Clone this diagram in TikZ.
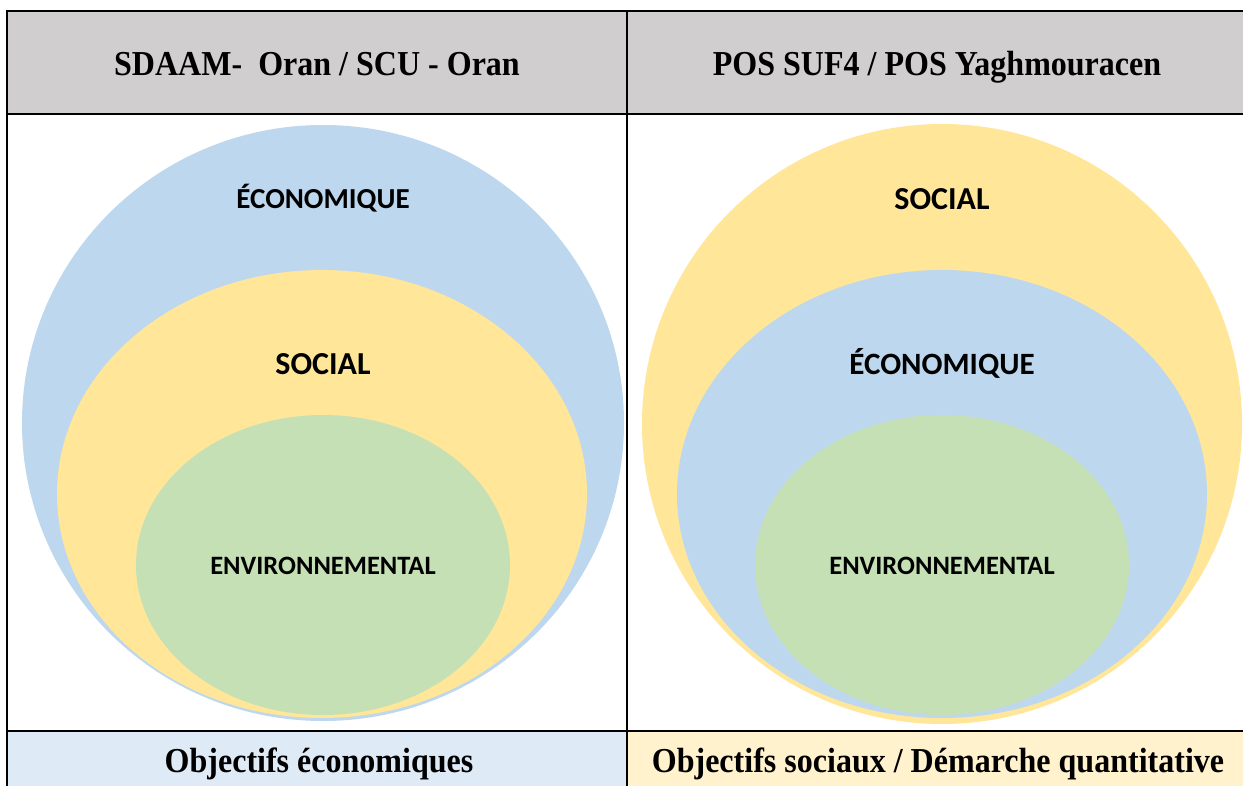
\documentclass[tikz,border=0pt]{standalone}
\usepackage{fontspec}
\setmainfont{Liberation Serif}
\newfontfamily\titlefont[FakeStretch=0.915]{Liberation Serif}
\newfontfamily\circfont{Carlito}
\definecolor{headgray}{HTML}{D0CECE}
\definecolor{ecoblue}{HTML}{BDD7EE}
\definecolor{socyellow}{HTML}{FFE699}
\definecolor{envgreen}{HTML}{C5E0B4}
\definecolor{footblue}{HTML}{DEEAF6}
\definecolor{footyellow}{HTML}{FFF2CC}
\begin{document}
\begin{tikzpicture}[
        x=1pt, y=-1pt,
        title/.style={anchor=base, font=\titlefont\bfseries\fontsize{35}{40}\selectfont},
        circlabel/.style={font=\circfont\bfseries\fontsize{#1}{#1}\selectfont}
    ]
        \clip (0,0) rectangle (1243,786);
        % table cells
        \fill[white] (0,0) rectangle (1243,786);
        \fill[headgray] (7,11) rectangle (1260,114);
        \fill[footblue] (7,731) rectangle (627,800);
        \fill[footyellow] (627,731) rectangle (1260,800);
        % left column: economique > social > environnemental
        \fill[ecoblue] (323,423) ellipse [x radius=301, y radius=298];
        \fill[socyellow] (322,494) ellipse [x radius=265, y radius=224];
        \fill[envgreen] (323,565) ellipse [x radius=187, y radius=150];
        % right column: social > economique > environnemental
        \fill[socyellow] (942,424) ellipse [x radius=300, y radius=300];
        \fill[ecoblue] (942,494) ellipse [x radius=265, y radius=224];
        \fill[envgreen] (942,565) ellipse [x radius=187, y radius=150];
        % grid lines
        \draw[line width=2.5pt] (1260,11) -- (7,11) -- (7,800);
        \draw[line width=2.5pt] (7,114) -- (1260,114);
        \draw[line width=2.5pt] (7,731) -- (1260,731);
        \draw[line width=2.5pt] (627,11) -- (627,800);
        % texts
        \node[title] (lefthead) at (317,76) {SDAAM-~ Oran / SCU - Oran};
        \node[title] (righthead) at (937,76) {POS SUF4 / POS Yaghmouracen};
        \node[circlabel=29] (lefteco) at (323,198) {ÉCONOMIQUE};
        \node[circlabel=32] (leftsoc) at (323,364) {SOCIAL};
        \node[circlabel=26.5] (leftenv) at (323,566) {ENVIRONNEMENTAL};
        \node[circlabel=32] (rightsoc) at (942,199) {SOCIAL};
        \node[circlabel=31] (righteco) at (942,363) {ÉCONOMIQUE};
        \node[circlabel=26.5] (rightenv) at (942,566) {ENVIRONNEMENTAL};
        \node[title] (leftfoot) at (319,772) {Objectifs économiques};
        \node[title] (rightfoot) at (938,772) {Objectifs sociaux / Démarche quantitative};
    \end{tikzpicture}
\end{document}
